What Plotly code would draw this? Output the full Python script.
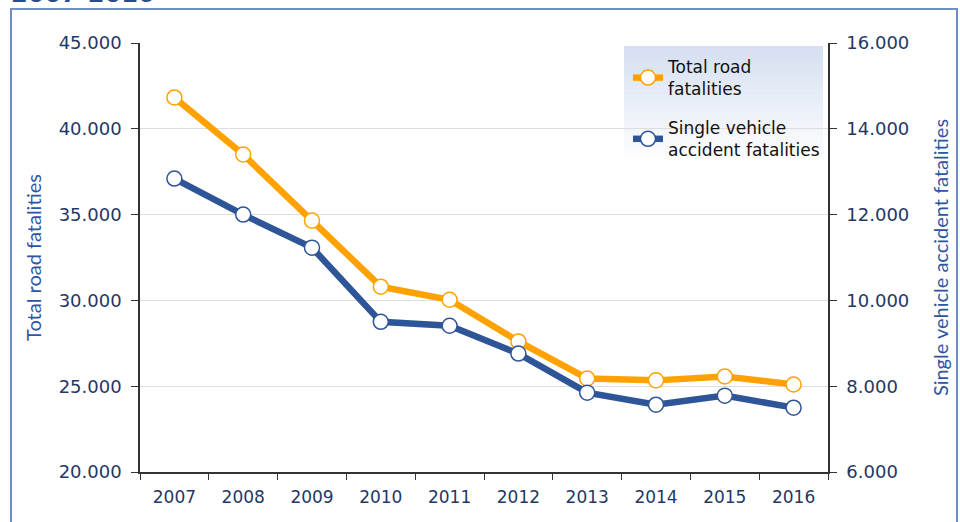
import plotly.graph_objects as go

years = ['2007', '2008', '2009', '2010', '2011', '2012', '2013', '2014', '2015', '2016']
total_fatalities = [41830, 38500, 34650, 30800, 30040, 27610, 25450, 25340, 25570, 25100]
single_vehicle = [12840, 12000, 11230, 9500, 9410, 8760, 7850, 7570, 7780, 7500]
left_ticks = [20000, 25000, 30000, 35000, 40000, 45000]
right_ticks = [6000, 8000, 10000, 12000, 14000, 16000]

ORANGE = '#FFA200'
BLUE = '#2E5597'
TICK_COLOR = '#1F3864'
TITLE_COLOR = '#2E55A0'

fig = go.Figure()
fig.add_trace(go.Scatter(
    x=years, y=total_fatalities, name='Total road<br>fatalities', legendgroup='a',
    mode='lines+markers', yaxis='y',
    line=dict(color=ORANGE, width=6.5),
    marker=dict(symbol='circle', size=15, color='white', line=dict(color=ORANGE, width=1.5)),
))
fig.add_trace(go.Scatter(
    x=years, y=single_vehicle, name='Single vehicle<br>accident fatalities', legendgroup='b',
    mode='lines+markers', yaxis='y2',
    line=dict(color=BLUE, width=6.5),
    marker=dict(symbol='circle', size=15, color='white', line=dict(color=BLUE, width=1.5)),
))

# plot area in pixels: x 140..828, y 43..472
W0, W1, H0, H1 = 140, 828, 43, 472
def px_x(p):
    return (p - W0) / (W1 - W0)
def px_y(p):
    return (H1 - p) / (H1 - H0)

shapes = []
# legend gradient background
n = 24
top, bot = 46, 164
c0 = (214, 224, 242)
for i in range(n):
    t = i / (n - 1)
    r = int(c0[0] + (255 - c0[0]) * t)
    g = int(c0[1] + (255 - c0[1]) * t)
    b = int(c0[2] + (255 - c0[2]) * t)
    y0 = top + (bot - top) * i / n
    y1 = top + (bot - top) * (i + 1) / n
    shapes.append(dict(type='rect', xref='paper', yref='paper', layer='between',
                       x0=px_x(624), x1=px_x(823), y0=px_y(y1 + 0.5), y1=px_y(y0),
                       fillcolor=f'rgb({r},{g},{b})', line=dict(width=0)))
# outer frame
shapes.append(dict(type='rect', xref='paper', yref='paper', layer='above',
                   x0=px_x(11), x1=px_x(957), y0=px_y(540), y1=px_y(9),
                   line=dict(color='#6F8EC4', width=2), fillcolor='rgba(0,0,0,0)'))

fig.update_layout(
    width=960, height=522,
    margin=dict(l=W0, r=960 - W1, t=H0, b=522 - H1),
    paper_bgcolor='white', plot_bgcolor='white',
    separators=',.',
    font=dict(family='DejaVu Sans', size=17, color=TICK_COLOR),
    showlegend=True,
    legend=dict(x=px_x(628), y=px_y(49), xanchor='left', yanchor='top',
                bgcolor='rgba(0,0,0,0)', font=dict(family='DejaVu Sans', size=17, color='#111111'),
                tracegroupgap=14, itemwidth=30),
    xaxis=dict(type='category', tickson='boundaries', showline=True, linecolor='#333333', linewidth=1.5,
               ticks='outside', ticklen=6, tickcolor='#333333', showgrid=False, ticklabelstandoff=9,
               tickfont=dict(family='DejaVu Sans', size=17, color=TICK_COLOR), range=[-0.5, 9.5]),
    yaxis=dict(range=[20000, 45000], tickvals=left_ticks, tickformat=',d',
               showline=True, linecolor='#333333', linewidth=1.5, ticks='outside', ticklen=7,
               tickcolor='#333333', showgrid=True, gridcolor='#DDDDDD', gridwidth=1,
               zeroline=False, ticklabelstandoff=6,
               tickfont=dict(family='DejaVu Sans', size=18, color=TICK_COLOR),
               title=dict(text='Total road fatalities', font=dict(family='Lato', size=20, color=TITLE_COLOR),
                          standoff=12)),
    yaxis2=dict(range=[6000, 16000], tickvals=right_ticks, tickformat=',d', overlaying='y', side='right',
                showline=True, linecolor='#333333', linewidth=1.5, ticks='outside', ticklen=7,
                tickcolor='#333333', showgrid=False, zeroline=False, ticklabelstandoff=6,
                tickfont=dict(family='DejaVu Sans', size=18, color=TICK_COLOR),
                title=dict(text='Single vehicle accident fatalities',
                           font=dict(family='Lato', size=20, color=TITLE_COLOR), standoff=26)),
    shapes=shapes,
    annotations=[dict(text='<b>2007-2016</b>', xref='paper', yref='paper', x=px_x(9), y=px_y(10),
                      xanchor='left', yanchor='bottom', showarrow=False,
                      font=dict(family='DejaVu Sans', size=24, color='#2B4C8C'))],
)

fig.write_html('out.html', config={'displayModeBar': False},
               post_script="document.body.style.margin='0';")
